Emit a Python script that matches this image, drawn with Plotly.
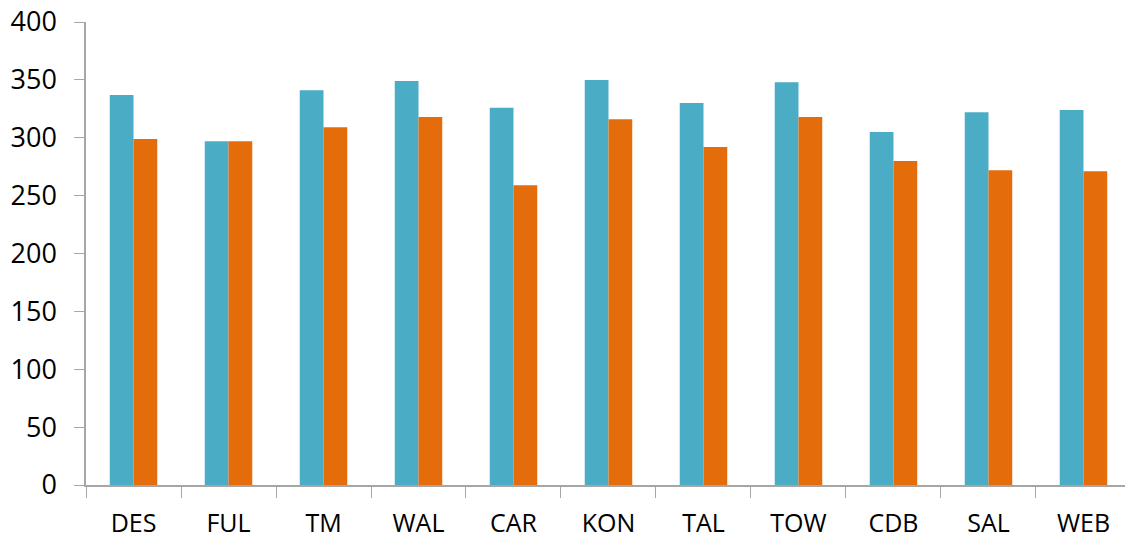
import plotly.graph_objects as go

categories = ["DES", "FUL", "TM", "WAL", "CAR", "KON", "TAL", "TOW", "CDB", "SAL", "WEB"]
series_a = [337, 297, 341, 349, 326, 350, 330, 348, 305, 322, 324]
series_b = [299, 297, 309, 318, 259, 316, 292, 318, 280, 272, 271]
y_ticks = [0, 50, 100, 150, 200, 250, 300, 350, 400]

BLUE = "#4BACC6"
ORANGE = "#E46C0A"
AXIS = "#A6A6A6"
FONT = "Open Sans"

fig = go.Figure()
fig.add_trace(go.Bar(x=categories, y=series_a, marker=dict(color=BLUE, line_width=0)))
fig.add_trace(go.Bar(x=categories, y=series_b, marker=dict(color=ORANGE, line_width=0)))

fig.update_layout(
    width=1125,
    height=538,
    margin=dict(l=86, r=0, t=22, b=53),
    paper_bgcolor="white",
    plot_bgcolor="white",
    barmode="group",
    bargap=0.5,
    bargroupgap=0,
    showlegend=False,
    font=dict(family=FONT, color="black"),
)
fig.update_xaxes(
    type="category",
    range=[-0.5, 10.437],
    showline=True,
    linecolor=AXIS,
    linewidth=1.5,
    ticks="outside",
    tickson="boundaries",
    ticklen=11,
    tickcolor=AXIS,
    tickwidth=1,
    showgrid=False,
    tickfont=dict(size=25, family=FONT),
    ticklabelstandoff=15,
)
fig.update_yaxes(
    range=[0, 400],
    tickvals=y_ticks,
    showline=True,
    linecolor=AXIS,
    linewidth=1.5,
    ticks="outside",
    ticklen=10,
    tickcolor=AXIS,
    tickwidth=1,
    showgrid=False,
    zeroline=False,
    tickfont=dict(size=27, family=FONT),
    ticklabelstandoff=12,
)

fig.write_html("out.html")
